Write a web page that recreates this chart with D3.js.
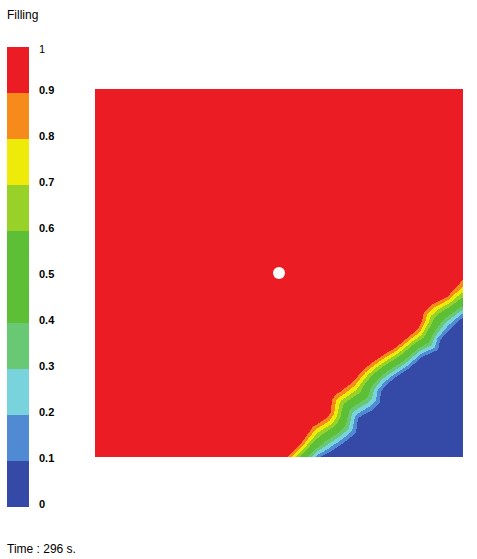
<!DOCTYPE html>
<html lang="en">
<head>
<meta charset="UTF-8">
<title>Filling</title>
<script src="https://d3js.org/d3.v7.min.js"></script>
<style>
body { margin: 0; background: #fff; }
svg { display: block; font-family: "Liberation Sans", Arial, sans-serif; }
.band { shape-rendering: crispEdges; }
</style>
</head>
<body>
<svg id="chart" width="477" height="559"></svg>
<script>
// legend levels and band colours (band i covers [levels[i], levels[i+1]])
const levels = [0, 0.1, 0.2, 0.3, 0.4, 0.5, 0.6, 0.7, 0.8, 0.9, 1];
const levelLabels = ["0", "0.1", "0.2", "0.3", "0.4", "0.5", "0.6", "0.7", "0.8", "0.9", "1"];
const bandColors = ["#354aa6", "#4f8ad2", "#79d3dc", "#69c873", "#5cbf35",
                    "#5cbf35", "#98d127", "#eeea0a", "#f68a1a", "#ec1c24"];

// melt front in the cavity (x, y as fraction of the mould, y from top)
// filled side edge (filling = 0.9)
const fullEdgeX = [0.522, 0.557, 0.592, 0.630, 0.641, 0.644, 0.655, 0.666, 0.701, 0.728, 0.755,
                   0.788, 0.815, 0.842, 0.878, 0.889, 0.894, 0.918, 0.957, 0.986, 1.0];
const fullEdgeY = [1.0, 0.967, 0.918, 0.894, 0.878, 0.845, 0.829, 0.823, 0.796, 0.764, 0.742,
                   0.720, 0.704, 0.682, 0.652, 0.628, 0.606, 0.584, 0.565, 0.535, 0.516];
// empty side edge (filling = 0.1)
const emptyEdgeX = [0.530, 0.611, 0.639, 0.671, 0.709, 0.715, 0.734, 0.755, 0.774, 0.777, 0.793,
                    0.815, 0.851, 0.889, 0.932, 0.938, 0.970, 1.0];
const emptyEdgeY = [1.073, 1.0, 0.986, 0.965, 0.935, 0.894, 0.883, 0.872, 0.851, 0.823, 0.802,
                    0.785, 0.761, 0.728, 0.709, 0.682, 0.647, 0.620];

// injection point
const gate = [0.5, 0.5];
const timeSec = 296;

const svg = d3.select("#chart");

// plot area
const x = d3.scaleLinear().domain([0, 1]).range([95, 463]);
const y = d3.scaleLinear().domain([0, 1]).range([89, 457]);

const fullEdge = d3.scaleLinear().domain(fullEdgeX).range(fullEdgeY);
const emptyEdge = d3.scaleLinear().domain(emptyEdgeX).range(emptyEdgeY);
const fullPts = d3.zip(fullEdgeX, fullEdgeY);
const emptyPts = d3.zip(emptyEdgeX, emptyEdgeY);

function distToLine(pts, px, py) {
    let best = Infinity;
    for (let k = 0; k < pts.length - 1; k++) {
        const [ax, ay] = pts[k], [bx, by] = pts[k + 1];
        const dx = bx - ax, dy = by - ay;
        let t = ((px - ax) * dx + (py - ay) * dy) / (dx * dx + dy * dy);
        t = Math.max(0, Math.min(1, t));
        const ex = ax + t * dx - px, ey = ay + t * dy - py;
        best = Math.min(best, ex * ex + ey * ey);
    }
    return Math.sqrt(best);
}

// filling field: 0.9 on the full edge, 0.1 on the empty edge
const n = 368;
const values = new Float64Array(n * n);
for (let i = 0; i < n; i++) {
    const xd = (i + 0.5) / n;
    const yf = fullEdge(xd), ye = emptyEdge(xd);
    for (let j = 0; j < n; j++) {
        const yd = (j + 0.5) / n;
        let v;
        if (yd <= yf) v = 1;
        else if (yd >= ye) v = 0;
        else {
            const df = distToLine(fullPts, xd, yd);
            const de = distToLine(emptyPts, xd, yd);
            v = 0.9 - 0.8 * df / (df + de);
        }
        values[j * n + i] = v;
    }
}

const contours = d3.contours()
    .size([n, n])
    .thresholds(levels.slice(0, -1))(values);

const gridPath = d3.geoPath(d3.geoTransform({
    point: function (px, py) {
        this.stream.point(x(px / n), y(py / n));
    }
}));

svg.append("g")
    .selectAll("path")
    .data(contours)
    .join("path")
    .attr("class", "band")
    .attr("d", gridPath)
    .attr("fill", (d, i) => bandColors[i]);

svg.append("circle")
    .attr("cx", x(gate[0]))
    .attr("cy", y(gate[1]))
    .attr("r", 6)
    .attr("fill", "#fff");

// legend
const ly = d3.scaleLinear().domain([0, 1]).range([507, 47]);
const legend = svg.append("g");

legend.selectAll("rect")
    .data(bandColors)
    .join("rect")
    .attr("class", "band")
    .attr("x", 7)
    .attr("width", 22)
    .attr("y", (d, i) => ly(levels[i + 1]))
    .attr("height", (d, i) => ly(levels[i]) - ly(levels[i + 1]))
    .attr("fill", d => d);

legend.selectAll("text")
    .data(levels)
    .join("text")
    .attr("x", 39)
    .attr("y", (d, i) => i === levels.length - 1 ? ly(d) + 6 : ly(d) + 1)
    .attr("font-size", 11)
    .attr("font-weight", (d, i) => i === levels.length - 1 ? "normal" : "bold")
    .attr("fill", "#000")
    .text((d, i) => levelLabels[i]);

svg.append("text")
    .attr("x", 7)
    .attr("y", 19)
    .attr("font-size", 12)
    .text("Filling");

svg.append("text")
    .attr("x", 7)
    .attr("y", 553)
    .attr("font-size", 12)
    .text("Time : " + timeSec + " s.");
</script>
</body>
</html>
